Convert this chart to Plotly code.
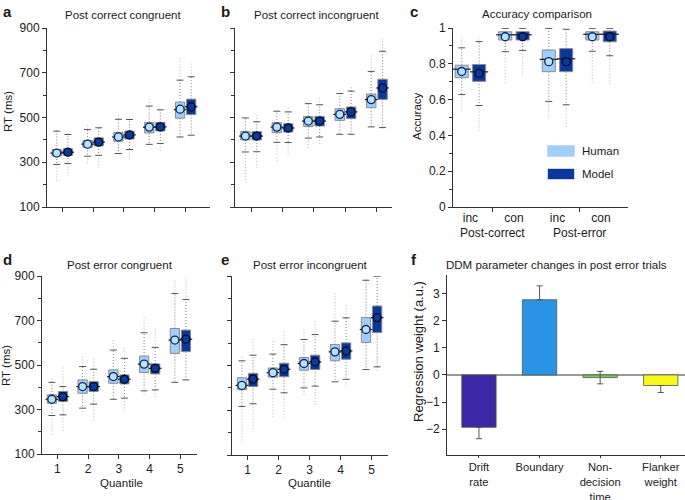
import plotly.graph_objects as go

W, H = 685, 500
FONT = "Liberation Sans, Arial, Helvetica, sans-serif"

# ---------------- data ----------------
quantiles = [1, 2, 3, 4, 5]
quantile_labels = ["1", "2", "3", "4", "5"]

# Panel a: post correct congruent (RT, ms)
a_human = dict(q1=[328, 366, 394, 431, 497], med=[341, 381, 413, 456, 535], q3=[357, 398, 433, 478, 569],
               mean=[341, 381, 413, 457, 537], wlo=[290, 327, 339, 380, 413], whi=[439, 446, 492, 551, 667],
               olo=[212, 291, 339, 375, 413], ohi=[446, 470, 518, 590, 764])
a_model = dict(q1=[331, 373, 404, 440, 513], med=[345, 390, 422, 458, 548], q3=[360, 409, 439, 478, 582],
               mean=[345, 390, 422, 458, 548], wlo=[294, 331, 357, 384, 421], whi=[424, 454, 491, 534, 682],
               olo=[239, 272, 306, 352, 413], ohi=[428, 467, 500, 536, 742])

# Panel b: post correct incongruent
b_human = dict(q1=[400, 432, 460, 487, 544], med=[417, 457, 484, 514, 580], q3=[437, 477, 505, 539, 605],
               mean=[417, 457, 484, 514, 580], wlo=[346, 389, 408, 425, 458], whi=[498, 528, 562, 607, 706],
               olo=[209, 294, 364, 425, 458], ohi=[505, 536, 569, 633, 785])
b_model = dict(q1=[400, 435, 462, 495, 581], med=[417, 453, 484, 525, 632], q3=[437, 472, 505, 547, 671],
               mean=[417, 453, 484, 525, 632], wlo=[347, 388, 413, 425, 455], whi=[481, 525, 557, 618, 796],
               olo=[274, 331, 373, 425, 446], ohi=[511, 550, 589, 644, 855])

# Panel c: accuracy comparison
c_positions = [1, 2, 3, 4]
c_labels = ["inc", "con", "inc", "con"]
c_group_pos = [1.5, 3.5]
c_group_labels = ["Post-correct", "Post-error"]
c_human = dict(q1=[0.722, 0.933, 0.756, 0.933], med=[0.770, 0.962, 0.825, 0.965], q3=[0.792, 0.979, 0.877, 0.979],
               mean=[0.757, 0.951, 0.812, 0.951], wlo=[0.628, 0.868, 0.590, 0.870], whi=[0.889, 0.998, 0.998, 0.998],
               olo=[0.540, 0.689, 0.487, 0.687], ohi=[0.948, 0.998, 0.998, 0.998])
c_model = dict(q1=[0.702, 0.933, 0.756, 0.923], med=[0.755, 0.962, 0.828, 0.965], q3=[0.796, 0.979, 0.885, 0.983],
               mean=[0.746, 0.951, 0.812, 0.951], wlo=[0.567, 0.875, 0.571, 0.845], whi=[0.924, 0.998, 0.993, 0.998],
               olo=[0.425, 0.736, 0.447, 0.687], ohi=[0.944, 0.998, 0.993, 0.998])

# Panel d: post error congruent
d_human = dict(q1=[328, 373, 418, 466, 552], med=[346, 403, 448, 504, 612], q3=[366, 433, 478, 540, 664],
               mean=[346, 403, 448, 504, 612], wlo=[273, 306, 346, 384, 422], whi=[422, 493, 567, 645, 821],
               olo=[179, 284, 346, 358, 422], ohi=[448, 545, 612, 724, 881])
d_model = dict(q1=[336, 381, 415, 460, 560], med=[358, 403, 436, 485, 616], q3=[381, 425, 455, 505, 657],
               mean=[358, 403, 436, 485, 616], wlo=[276, 324, 351, 388, 433], whi=[403, 481, 530, 579, 794],
               olo=[194, 246, 284, 351, 433], ohi=[496, 537, 575, 664, 896])

# Panel e: post error incongruent
e_human = dict(q1=[392, 448, 479, 521, 603], med=[411, 468, 509, 561, 661], q3=[445, 489, 536, 594, 714],
               mean=[411, 468, 509, 561, 661], wlo=[317, 394, 400, 427, 482], whi=[521, 551, 616, 698, 881],
               olo=[153, 265, 363, 427, 482], ohi=[546, 620, 670, 829, 896])
e_model = dict(q1=[406, 450, 482, 528, 647], med=[439, 483, 516, 565, 714], q3=[465, 510, 546, 601, 766],
               mean=[439, 483, 516, 565, 714], wlo=[329, 378, 408, 438, 494], whi=[546, 593, 638, 713, 899],
               olo=[206, 264, 316, 408, 472], ohi=[617, 655, 705, 777, 899])

# Panel f: DDM parameter changes
f_params = ["Drift<br>rate", "Boundary", "Non-<br>decision<br>time", "Flanker<br>weight"]
f_values = [-1.93, 2.77, -0.10, -0.39]
f_errors = [0.42, 0.51, 0.23, 0.26]
f_colors = ["#3c28a4", "#2993e6", "#7acb4e", "#f8f81c"]

# ---------------- styles ----------------
HUMAN_FILL = "#9ecfff"
MODEL_FILL = "#0a379c"
HUMAN_DOT = "#b5e2ff"
MODEL_DOT = "#0b3a9e"
AXC = "#333333"


def dx(p0, p1):
    return [p0 / W, p1 / W]


def dy(top, bottom):
    return [1 - bottom / H, 1 - top / H]


fig = go.Figure()


def add_boxes(xa, ya, xs, s, fill, dot_fill, dot_line, bw, med_px, circ):
    ox, oy, wx, wy = [], [], [], []
    for x, q1, q3, wl, wh, lo, hi in zip(xs, s["q1"], s["q3"], s["wlo"], s["whi"], s["olo"], s["ohi"]):
        if hi > wh:
            ox += [x, x, None]; oy += [wh, hi, None]
        if lo < wl:
            ox += [x, x, None]; oy += [wl, lo, None]
        wx += [x, x, None, x, x, None]
        wy += [q3, wh, None, q1, wl, None]
    fig.add_trace(go.Scatter(x=ox, y=oy, mode="lines", xaxis=xa, yaxis=ya, showlegend=False,
                             line=dict(color="#c2c2c2", width=1.2, dash="1px,2px"), hoverinfo="skip"))
    fig.add_trace(go.Scatter(x=wx, y=wy, mode="lines", xaxis=xa, yaxis=ya, showlegend=False,
                             line=dict(color="#8a8a8a", width=1.1, dash="1px,2px"), hoverinfo="skip"))
    fig.add_trace(go.Scatter(x=xs + xs, y=s["wlo"] + s["whi"], mode="markers", xaxis=xa, yaxis=ya, showlegend=False,
                             marker=dict(symbol="line-ew", size=5, line=dict(color="#555555", width=1)),
                             hoverinfo="skip"))
    fig.add_trace(go.Bar(x=xs, y=[b - a for a, b in zip(s["q1"], s["q3"])], base=s["q1"], width=bw,
                         xaxis=xa, yaxis=ya, showlegend=False,
                         marker=dict(color=fill, line=dict(color="#8c8c8c", width=1))))
    fig.add_trace(go.Scatter(x=xs, y=s["med"], mode="markers", xaxis=xa, yaxis=ya, showlegend=False,
                             marker=dict(symbol="line-ew", size=med_px, line=dict(color="#1a1a2a", width=1.2))))
    fig.add_trace(go.Scatter(x=xs, y=s["mean"], mode="markers", xaxis=xa, yaxis=ya, showlegend=False,
                             marker=dict(symbol="circle", size=circ, color=dot_fill,
                                         line=dict(color=dot_line, width=1.3))))


def rt_panel(idx, human, model, off=0.18, bw=0.3):
    xa = "x" if idx == 1 else f"x{idx}"
    ya = "y" if idx == 1 else f"y{idx}"
    add_boxes(xa, ya, [q - off for q in quantiles], human, HUMAN_FILL, HUMAN_DOT, "#14265a", bw, 9, 8)
    add_boxes(xa, ya, [q + off for q in quantiles], model, MODEL_FILL, MODEL_DOT, "#000a24", bw, 9, 8)


rt_panel(1, a_human, a_model)
rt_panel(2, b_human, b_model)
rt_panel(4, d_human, d_model)
rt_panel(5, e_human, e_model)

# panel c
add_boxes("x3", "y3", [p - 0.2 for p in c_positions], c_human, HUMAN_FILL, HUMAN_DOT, "#14265a", 0.3, 13, 8)
add_boxes("x3", "y3", [p + 0.2 for p in c_positions], c_model, MODEL_FILL, MODEL_DOT, "#000a24", 0.3, 13, 8)

# panel f
err_up = [e if (v >= 0 or abs(v) < e) else 0 for v, e in zip(f_values, f_errors)]
err_dn = [e if (v < 0 or abs(v) < e) else 0 for v, e in zip(f_values, f_errors)]
fig.add_trace(go.Bar(x=f_params, y=f_values, xaxis="x6", yaxis="y6", width=0.567, showlegend=False,
                     marker=dict(color=f_colors, line=dict(color="#555555", width=0.8)),
                     error_y=dict(type="data", symmetric=False, array=err_up, arrayminus=err_dn,
                                  color="#555555", thickness=1, width=3)))

# ---------------- axes ----------------
tickfont = dict(family=FONT, size=12, color="#222222")
common = dict(automargin=False, showgrid=False, zeroline=False, showline=True, linecolor=AXC, linewidth=1,
              tickcolor=AXC, tickfont=tickfont, fixedrange=True)


def rt_y(domain, labels, anchor):
    return dict(common, domain=domain, anchor=anchor, range=[100, 900], tickmode="linear", tick0=100, dtick=200,
                showticklabels=labels, ticks="outside", ticklen=4,
                minor=dict(dtick=100, ticks="outside", ticklen=3, tickcolor=AXC))


def rt_x(domain, rng, anchor, labels):
    return dict(common, domain=domain, range=rng, anchor=anchor, tickvals=quantiles, ticktext=quantile_labels,
                showticklabels=labels, ticks="outside", ticklen=4)


layout = dict(
    template="none",
    width=W, height=H, margin=dict(l=0, r=0, t=0, b=0, pad=0), paper_bgcolor="white", plot_bgcolor="white",
    barmode="overlay", showlegend=False, font=dict(family=FONT, size=12, color="#222222"),
    xaxis=rt_x(dx(47, 210), [0.504, 5.79], "y", False),
    yaxis=rt_y(dy(28, 207), True, "x"),
    xaxis2=rt_x(dx(235, 392), [0.49, 5.48], "y2", False),
    yaxis2=rt_y(dy(28, 207), False, "x2"),
    xaxis4=rt_x(dx(42, 197), [0.5, 5.54], "y4", True),
    yaxis4=rt_y(dy(276, 454), True, "x4"),
    xaxis5=rt_x(dx(232, 388), [0.5, 5.53], "y5", True),
    yaxis5=rt_y(dy(276, 455), False, "x5"),
    xaxis3=dict(common, domain=dx(453, 628), range=[0.6, 4.62], anchor="y3", tickvals=c_positions,
                ticktext=c_labels, ticks="",
                minor=dict(tickvals=c_group_pos, ticks="outside", ticklen=4, tickcolor=AXC)),
    yaxis3=dict(common, domain=dy(28, 207), range=[0, 1], anchor="x3", tickmode="linear", tick0=0, dtick=0.2,
                ticks="outside", ticklen=4,
                minor=dict(dtick=0.1, ticks="outside", ticklen=3, tickcolor=AXC)),
    xaxis6=dict(common, domain=dx(447, 685), range=[-0.527, 3.40], anchor="y6", ticks="outside", ticklen=2,
                tickfont=dict(family=FONT, size=11.2, color="#222222")),
    yaxis6=dict(common, domain=dy(275, 455), range=[-2.95, 3.68], anchor="x6", tickmode="linear", tick0=0,
                dtick=1, ticks="outside", ticklen=4,
                zeroline=True, zerolinecolor="#9a9a9a", zerolinewidth=1.5),
)
fig.update_layout(**layout)


# ---------------- text ----------------
def ann(text, px, py, size=12, bold=False, angle=0, xanchor="center", yanchor="middle", **kw):
    fig.add_annotation(text=f"<b>{text}</b>" if bold else text, x=px / W, y=1 - py / H, xref="paper",
                       yref="paper", showarrow=False, textangle=angle, xanchor=xanchor, yanchor=yanchor,
                       font=dict(family=FONT, size=size, color="#1a1a1a"), **kw)


titles = [("Post correct congruent", 123, 15), ("Post correct incongruent", 316, 15),
          ("Accuracy comparison", 537, 14), ("Post error congruent", 120, 265),
          ("Post error incongruent", 310, 265), ("DDM parameter changes in post error trials", 556, 265)]
for t, x, y in titles:
    ann(t, x, y, size=11.5)

for letter, x, y in [("a", 1, 11), ("b", 219, 11), ("c", 408, 11), ("d", 1, 259), ("e", 219, 259),
                     ("f", 409, 259)]:
    ann(letter, x, y, size=15, bold=True, xanchor="left")

ann("RT (ms)", 8, 112, size=11.5, angle=-90)
ann("RT (ms)", 6, 366, size=11.5, angle=-90)
ann("Accuracy", 417, 116, size=11.5, angle=-90)
ann("Regression weight (a.u.)", 418, 352, size=13, angle=-90)
ann("Quantile", 121, 483, size=11.5)
ann("Quantile", 309, 483, size=11.5)

# group labels under panel c
for gp, gl in zip(c_group_pos, c_group_labels):
    fig.add_annotation(text=gl, x=gp, xref="x3", y=1 - 233 / H, yref="paper", showarrow=False,
                       font=dict(family=FONT, size=12, color="#1a1a1a"), yanchor="middle")

# legend of panel c
for name, col, y in [("Human", HUMAN_FILL, 151.5), ("Model", MODEL_FILL, 173.5)]:
    fig.add_annotation(text="", x=547 / W, y=1 - y / H, xref="paper", yref="paper", showarrow=False,
                       xanchor="left", yanchor="middle", width=26, height=10, bgcolor=col,
                       bordercolor="#c8d8e8", borderwidth=1, borderpad=0)
    ann(name, 580, y, size=11.5, xanchor="left")

fig.write_html("out.html", config={"displayModeBar": False},
               post_script="document.body.style.margin='0px';document.body.style.overflow='hidden';")
